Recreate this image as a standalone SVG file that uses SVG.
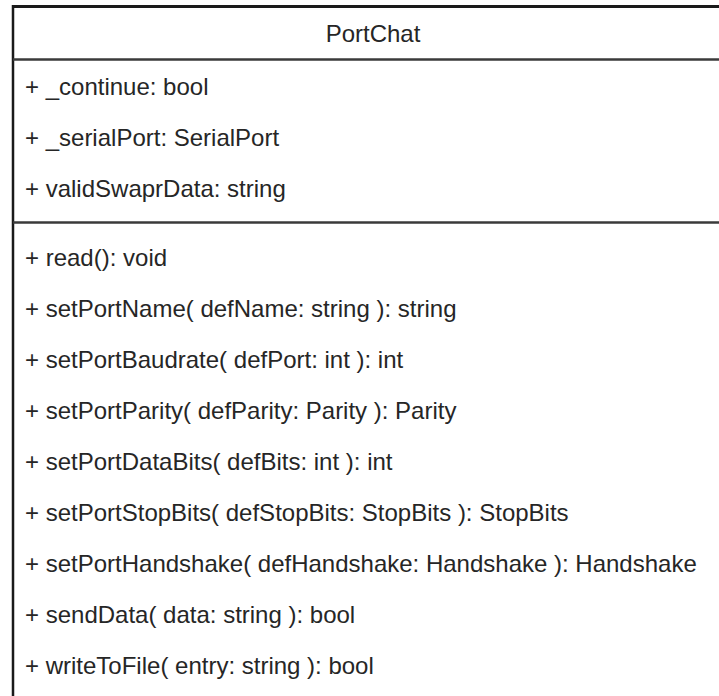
<svg xmlns="http://www.w3.org/2000/svg" width="719" height="696" viewBox="0 0 719 696">
<style>
.t{font-family:"Liberation Sans",Arial,sans-serif;font-size:24px;fill:#262626}
.b{stroke:#1a1a1a;fill:none}
.s{stroke:#3a3a3a;stroke-width:2.5;fill:none}
</style>
<rect width="719" height="696" fill="#ffffff"/>
<g id="PortChat">
<path class="b" stroke-width="3" d="M12 6.5 H719"/>
<path class="b" stroke-width="2.5" d="M13 5 V696"/>
<path class="s" d="M13 59.5 H719"/>
<path class="s" d="M13 222.5 H719"/>
<text class="t" x="373" y="42" text-anchor="middle">PortChat</text>
<text class="t" x="25" y="95">+ _continue: bool</text>
<text class="t" x="25" y="146">+ _serialPort: SerialPort</text>
<text class="t" x="25" y="197">+ validSwaprData: string</text>
<text class="t" x="25" y="266">+ read(): void</text>
<text class="t" x="25" y="317">+ setPortName( defName: string ): string</text>
<text class="t" x="25" y="368">+ setPortBaudrate( defPort: int ): int</text>
<text class="t" x="25" y="419">+ setPortParity( defParity: Parity ): Parity</text>
<text class="t" x="25" y="470">+ setPortDataBits( defBits: int ): int</text>
<text class="t" x="25" y="521">+ setPortStopBits( defStopBits: StopBits ): StopBits</text>
<text class="t" x="25" y="572">+ setPortHandshake( defHandshake: Handshake ): Handshake</text>
<text class="t" x="25" y="623">+ sendData( data: string ): bool</text>
<text class="t" x="25" y="674">+ writeToFile( entry: string ): bool</text>
</g>
<g id="connectors"/>
</svg>
